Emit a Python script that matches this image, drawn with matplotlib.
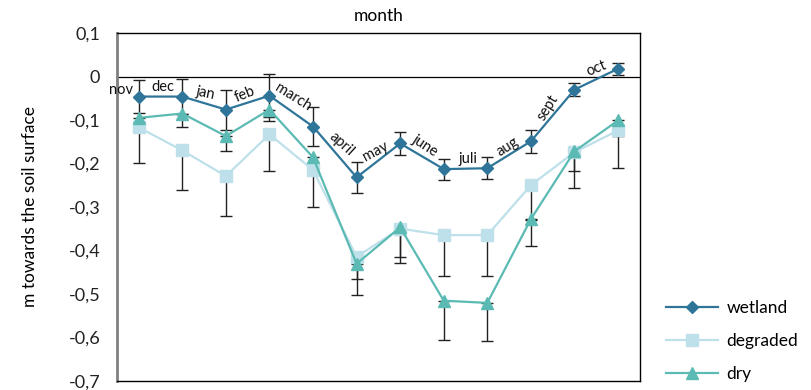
import matplotlib
matplotlib.use("Agg")
import matplotlib.pyplot as plt
from matplotlib.ticker import FuncFormatter

plt.rcParams["font.family"] = ["Lato", "DejaVu Sans"]

months = ["nov", "dec", "jan", "feb", "march", "april", "may",
          "june", "juli", "aug", "sept", "oct"]

wetland = [-0.046, -0.046, -0.076, -0.044, -0.115, -0.232, -0.154,
           -0.213, -0.211, -0.149, -0.030, 0.018]
wetland_err = [0.038, 0.041, 0.046, 0.049, 0.044, 0.036, 0.027,
               0.024, 0.025, 0.027, 0.015, 0.014]

degraded = [-0.117, -0.170, -0.229, -0.133, -0.215, -0.415, -0.350,
            -0.365, -0.365, -0.250, -0.174, -0.124]
degraded_err = [0.082, 0.091, 0.092, 0.085, 0.085, 0.05, 0.065,
                0.094, 0.094, 0.08, 0.044, 0.012]

dry = [-0.095, -0.085, -0.137, -0.076, -0.186, -0.431, -0.347,
       -0.516, -0.521, -0.328, -0.172, -0.101]
dry_err = [0.02, 0.03, 0.035, 0.027, 0.03, 0.071, 0.083,
           0.09, 0.087, 0.062, 0.085, 0.11]

# month labels sit left of each wetland point: (dx, dy, rotation)
label_pos = [(-0.41, 0.016, 0), (-0.45, 0.021, 0), (-0.48, 0.039, -12),
             (-0.57, 0.003, 22), (-0.45, 0.067, -32), (-0.34, 0.076, -42),
             (-0.56, -0.018, 28), (-0.44, 0.055, -33), (-0.45, 0.021, 0),
             (-0.54, -0.012, 32), (-0.62, -0.041, 58), (-0.5, 0.0, 22)]

c_wet = "#2f7599"
c_deg = "#bde0ea"
c_dry = "#5bbab3"
c_err = "#222222"

fig = plt.figure(figsize=(8.12, 3.9), dpi=100)
ax = fig.add_axes([0.144, 0.024, 0.644, 0.891])
x = list(range(len(months)))

ax.axhline(0, color="black", lw=0.9, zorder=1)

ebkw = dict(fmt="none", ecolor=c_err, elinewidth=1.0, capsize=4.5,
            capthick=1.0, zorder=2)
ax.errorbar(x, dry, yerr=[dry_err, [0] * len(x)], **ebkw)
ax.errorbar(x, degraded, yerr=[degraded_err, [0] * len(x)], **ebkw)
ax.errorbar(x, wetland, yerr=wetland_err, **ebkw)

ax.plot(x, degraded, color=c_deg, marker="s", ms=8, lw=1.6,
        label="degraded", zorder=3)
ax.plot(x, dry, color=c_dry, marker="^", ms=9, lw=1.6,
        label="dry", zorder=4)
ax.plot(x, wetland, color=c_wet, marker="D", ms=6.5, lw=1.6,
        label="wetland", zorder=5)

for i, m in enumerate(months):
    dx, dy, rot = label_pos[i]
    ax.text(i + dx, wetland[i] + dy, m, rotation=rot, fontsize=10.5,
            ha="center", va="center", color="#111111", zorder=6,
            rotation_mode="anchor")

ax.set_xlim(-0.5, len(months) - 0.5)
ax.set_ylim(-0.7, 0.1)
ax.set_yticks([0.1, 0, -0.1, -0.2, -0.3, -0.4, -0.5, -0.6, -0.7])
ax.yaxis.set_major_formatter(
    FuncFormatter(lambda v, p: "0" if abs(v) < 1e-9 else f"{v:.1f}".replace(".", ",")))
ax.tick_params(axis="y", length=0, labelsize=13, pad=12, colors="#222222")
ax.set_xticks([])

for s in ["top", "right", "bottom"]:
    ax.spines[s].set_color("black")
    ax.spines[s].set_linewidth(1.0)
ax.spines["left"].set_color("#808080")
ax.spines["left"].set_linewidth(2.0)

ax.set_ylabel("m towards the soil surface", fontsize=12.5)
ax.yaxis.set_label_coords(-0.15, 0.5)
fig.text(0.466, 0.96, "month", ha="center", va="center", fontsize=12.5)

handles, labels = ax.get_legend_handles_labels()
order = [labels.index(n) for n in ["wetland", "degraded", "dry"]]
ax.legend([handles[i] for i in order], [labels[i] for i in order],
          loc="lower left", bbox_to_anchor=(1.02, -0.05), frameon=False,
          fontsize=12.5, handlelength=3.0, labelspacing=1.0,
          handletextpad=0.5)

fig.savefig("out.png", dpi=100)
